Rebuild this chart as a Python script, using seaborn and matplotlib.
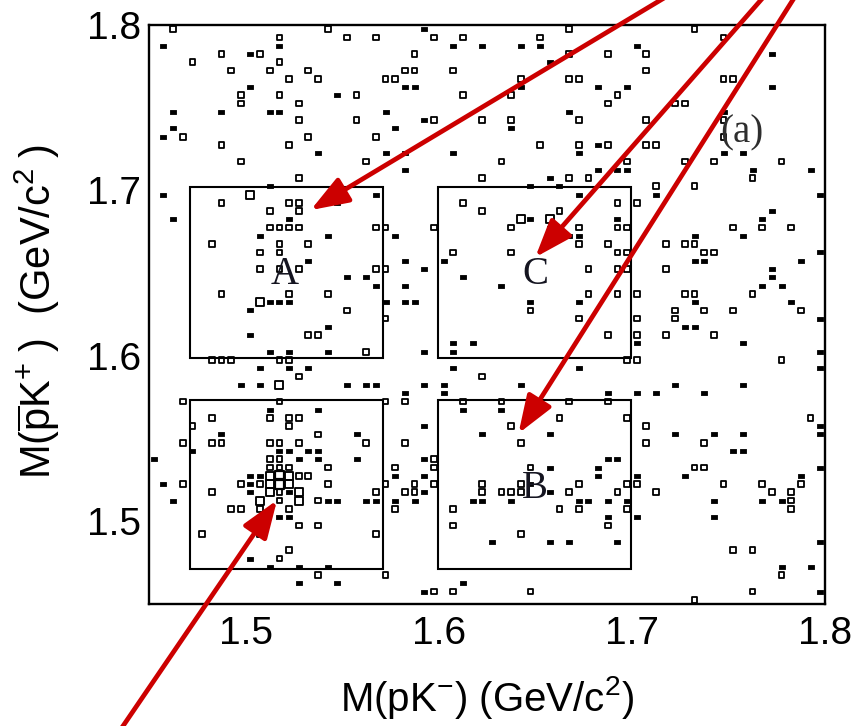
import matplotlib
matplotlib.use("Agg")
import matplotlib.pyplot as plt
from matplotlib.markers import MarkerStyle
from matplotlib.patches import Rectangle
from matplotlib.ticker import MultipleLocator
import pandas as pd
import seaborn as sns

# Occupied cells of the M(pK-) vs M(pbar K+) histogram (5 MeV/c^2 cells).
# One entry per row of cells: the M(pbar K+) centre of the row, the M(pK-)
# centres of the filled cells in that row and the number of entries in each.
row_m_pbark = [
    1.7975, 1.7925, 1.7875, 1.7825, 1.7775, 1.7725, 1.7675, 1.7625, 1.7575, 1.7525,
    1.7475, 1.7425, 1.7375, 1.7325, 1.7275, 1.7225, 1.7175, 1.7125, 1.7075, 1.7025,
    1.6975, 1.6925, 1.6875, 1.6825, 1.6775, 1.6725, 1.6675, 1.6625, 1.6575, 1.6525,
    1.6475, 1.6425, 1.6375, 1.6325, 1.6275, 1.6225, 1.6175, 1.6125, 1.6075, 1.6025,
    1.5975, 1.5925, 1.5875, 1.5825, 1.5775, 1.5725, 1.5675, 1.5625, 1.5575, 1.5525,
    1.5475, 1.5425, 1.5375, 1.5325, 1.5275, 1.5225, 1.5175, 1.5125, 1.5075, 1.5025,
    1.4975, 1.4925, 1.4875, 1.4825, 1.4775, 1.4725, 1.4675, 1.4625, 1.4575, 1.4525,
]

row_m_pk = [
    [1.4625, 1.5425, 1.5925, 1.6675, 1.7325],
    [1.5175, 1.5525, 1.5675, 1.5975, 1.6125, 1.6525, 1.7475],
    [1.4575, 1.5175, 1.6075, 1.6225, 1.6425, 1.6525, 1.7025],
    [1.4875, 1.5025, 1.5075, 1.5875, 1.6675, 1.6875, 1.7075, 1.7725],
    [1.4725, 1.5175, 1.6575],
    [1.4925, 1.5125, 1.5325, 1.5825, 1.5875, 1.6075, 1.7075],
    [1.5225, 1.5375, 1.5725, 1.5775, 1.6425, 1.6675, 1.6725, 1.7475, 1.7525],
    [1.5025, 1.5825, 1.5875, 1.6425, 1.6825, 1.6975, 1.7725],
    [1.4975, 1.5175, 1.5475, 1.5575, 1.6125, 1.6375, 1.6925],
    [1.4975, 1.5275, 1.6875, 1.7225, 1.7275],
    [1.4625, 1.4875, 1.5125, 1.5175, 1.5725, 1.6675, 1.7475],
    [1.5275, 1.5575, 1.5925, 1.5975, 1.6225, 1.6375, 1.6725, 1.7075, 1.7475],
    [1.4625, 1.5775, 1.6375],
    [1.4575, 1.4675, 1.5325, 1.5675, 1.7475],
    [1.4875, 1.5225, 1.6525, 1.6725, 1.6825, 1.6875, 1.7075, 1.7125],
    [1.5375, 1.5725, 1.5825, 1.6075, 1.6725, 1.7475, 1.7575],
    [1.4975, 1.5625, 1.6325, 1.6975, 1.7275, 1.7425, 1.7775],
    [1.5825, 1.6825, 1.6925, 1.6975, 1.7625, 1.7925],
    [1.5275, 1.6225, 1.6575, 1.6675, 1.6775, 1.7625],
    [1.5125, 1.6475, 1.6625, 1.7125, 1.7325],
    [1.4575, 1.5025, 1.5675, 1.6725, 1.7125, 1.7975],
    [1.4875, 1.5225, 1.5275, 1.5475, 1.6125, 1.6925, 1.7025],
    [1.5125, 1.5275, 1.6225, 1.6625, 1.7725],
    [1.4625, 1.5225, 1.6425, 1.6475, 1.6575, 1.6925, 1.7675],
    [1.5125, 1.5175, 1.5225, 1.5275, 1.5675, 1.5725, 1.5975, 1.6375, 1.6575, 1.6725,
     1.6925, 1.6975, 1.7525, 1.7675, 1.7825],
    [1.5075, 1.5425, 1.5775, 1.6675, 1.6725, 1.7325, 1.7575],
    [1.4825, 1.5175, 1.5325, 1.6725, 1.6875, 1.7175, 1.7275, 1.7325],
    [1.5075, 1.5175, 1.6075, 1.6375, 1.6925, 1.6975, 1.7375, 1.7425, 1.7975],
    [1.5325, 1.5825, 1.6025, 1.7325, 1.7375, 1.7875],
    [1.5075, 1.5175, 1.5275, 1.5675, 1.5725, 1.5925, 1.6775, 1.6925, 1.6975, 1.7175,
     1.7725],
    [1.5525, 1.5625, 1.6125, 1.7725],
    [1.5675, 1.5825, 1.6325, 1.7675, 1.7775],
    [1.4875, 1.5225, 1.5425, 1.6775, 1.6925, 1.7025, 1.7275, 1.7325, 1.7625],
    [1.5075, 1.5125, 1.5175, 1.5225, 1.5725, 1.5825, 1.5875, 1.6475, 1.6725, 1.7325,
     1.7825],
    [1.5025, 1.5525, 1.6475, 1.7225, 1.7375, 1.7525, 1.7875],
    [1.5725, 1.6725, 1.7025, 1.7225, 1.7975],
    [1.5425, 1.7275, 1.7325],
    [1.5025, 1.5325, 1.5375, 1.6875, 1.7025, 1.7175, 1.7425],
    [1.6075, 1.6175, 1.7025, 1.7575],
    [1.5125, 1.5225, 1.5425, 1.5625, 1.5925, 1.6075, 1.7975],
    [1.4825, 1.4875, 1.4925, 1.5175, 1.5225, 1.6975, 1.7025, 1.7775],
    [1.5075, 1.5225, 1.5325, 1.6075, 1.6725, 1.7975],
    [1.5275, 1.6225],
    [1.4975, 1.5075, 1.5175, 1.5525, 1.5625, 1.5675, 1.5925, 1.6025, 1.6425, 1.7225,
     1.7575],
    [1.5825, 1.6025, 1.6875, 1.7025, 1.7125, 1.7375],
    [1.4675, 1.5175, 1.5725, 1.5825, 1.6125, 1.6325, 1.6675, 1.6875],
    [1.5125, 1.5375, 1.6125, 1.6325],
    [1.4825, 1.5125, 1.5225, 1.5275, 1.6625, 1.6975, 1.7925],
    [1.4725, 1.5225, 1.5925, 1.6375, 1.7075, 1.7975],
    [1.4875, 1.5375, 1.5575, 1.6225, 1.6575, 1.7225, 1.7425, 1.7575, 1.7975],
    [1.4675, 1.4825, 1.4875, 1.5125, 1.5175, 1.5275, 1.5625, 1.5825, 1.6425, 1.7075,
     1.7375],
    [1.4725, 1.5175, 1.5225, 1.5325, 1.5375, 1.7525, 1.7575],
    [1.4525, 1.5125, 1.5175, 1.5275, 1.5375, 1.5575, 1.5925, 1.5975, 1.6875, 1.6925],
    [1.5125, 1.5175, 1.5225, 1.5425, 1.5775, 1.5975, 1.6475, 1.6575, 1.6825, 1.7325,
     1.7375, 1.7975],
    [1.5025, 1.5075, 1.5125, 1.5175, 1.5225, 1.5275, 1.5325, 1.5775, 1.5925, 1.6825,
     1.7025, 1.7275, 1.7875],
    [1.4575, 1.4675, 1.4975, 1.5025, 1.5075, 1.5125, 1.5175, 1.5225, 1.5425, 1.5725,
     1.5875, 1.5975, 1.6225, 1.6425, 1.6475, 1.6725, 1.6975, 1.7025, 1.7475, 1.7675,
     1.7875],
    [1.4825, 1.5025, 1.5125, 1.5175, 1.5225, 1.5275, 1.5675, 1.5825, 1.5875, 1.5925,
     1.6225, 1.6325, 1.6375, 1.6425, 1.6575, 1.6675, 1.6925, 1.7125, 1.7725, 1.7825],
    [1.4625, 1.5075, 1.5175, 1.5275, 1.5375, 1.5425, 1.5475, 1.5625, 1.5675, 1.5775,
     1.5875, 1.6175, 1.6225, 1.6375, 1.6725, 1.6775, 1.6875, 1.6975, 1.7425, 1.7675,
     1.7775, 1.7825],
    [1.4925, 1.4975, 1.5075, 1.5225, 1.5775, 1.6075, 1.6625, 1.6725, 1.6975, 1.7825],
    [1.5175, 1.5225, 1.6875, 1.7025, 1.7425],
    [1.5275, 1.5375, 1.6075, 1.6875],
    [1.4775, 1.5075, 1.5675, 1.6425],
    [1.6275, 1.6575, 1.6675, 1.6925, 1.7975],
    [1.5225, 1.7525, 1.7625],
    [1.5025, 1.5175],
    [1.5125, 1.5275, 1.5425, 1.7775, 1.7925],
    [1.5375, 1.5725, 1.7775],
    [1.5275, 1.5475, 1.6125],
    [1.5925, 1.5975, 1.6075, 1.6475, 1.7625, 1.7975],
    [1.7325],
]

row_entries = [
    [2, 2, 1, 2, 2],
    [2, 2, 2, 2, 2, 2, 2],
    [1, 1, 1, 1, 1, 1, 1],
    [2, 1, 2, 2, 2, 2, 2, 1],
    [2, 2, 1],
    [2, 2, 2, 2, 2, 2, 2],
    [2, 2, 2, 2, 2, 2, 2, 2, 2],
    [1, 1, 1, 1, 1, 1, 1],
    [2, 2, 1, 2, 2, 2, 2],
    [2, 2, 2, 2, 2],
    [1, 1, 1, 1, 1, 1, 1],
    [2, 2, 1, 2, 2, 2, 2, 2, 2],
    [1, 1, 1],
    [1, 2, 2, 2, 2],
    [2, 2, 2, 2, 1, 2, 2, 2],
    [1, 1, 1, 1, 1, 1, 1],
    [2, 2, 2, 2, 2, 2, 2],
    [1, 1, 1, 1, 1, 1],
    [2, 2, 1, 2, 2, 2],
    [1, 1, 1, 2, 2],
    [1, 3, 1, 1, 1, 1],
    [2, 2, 2, 1, 2, 2, 2],
    [2, 2, 2, 2, 1],
    [1, 1, 3, 1, 3, 1, 1],
    [2, 2, 2, 2, 2, 2, 2, 2, 1, 2, 2, 2, 2, 2, 2],
    [1, 1, 1, 1, 1, 1, 1],
    [2, 2, 2, 2, 2, 2, 2, 2],
    [2, 2, 2, 2, 2, 2, 2, 2, 1],
    [1, 1, 1, 1, 1, 1],
    [2, 2, 2, 2, 2, 1, 2, 2, 2, 2, 1],
    [1, 1, 1, 1],
    [1, 1, 1, 1, 1],
    [2, 2, 2, 2, 2, 2, 2, 2, 2],
    [3, 1, 1, 1, 1, 1, 1, 1, 1, 1, 1],
    [1, 2, 2, 2, 2, 2, 2],
    [2, 2, 2, 2, 1],
    [1, 1, 1],
    [1, 2, 2, 2, 2, 2, 2],
    [1, 1, 1, 1],
    [1, 1, 1, 2, 1, 1, 1],
    [2, 2, 2, 2, 2, 2, 2, 2],
    [1, 1, 1, 1, 1, 1],
    [2, 2],
    [1, 1, 3, 1, 1, 1, 1, 1, 1, 1, 1],
    [1, 1, 1, 1, 1, 1],
    [2, 2, 2, 2, 2, 2, 2, 2],
    [1, 1, 1, 1],
    [2, 2, 2, 2, 2, 2, 2],
    [2, 2, 1, 2, 2, 1],
    [1, 2, 1, 1, 1, 1, 1, 1, 1],
    [2, 2, 2, 2, 2, 2, 2, 2, 2, 2, 2],
    [1, 1, 1, 1, 1, 1, 1],
    [1, 2, 2, 1, 1, 1, 1, 2, 1, 1],
    [2, 2, 2, 2, 2, 2, 2, 1, 1, 2, 2, 1],
    [1, 1, 3, 4, 3, 2, 2, 1, 1, 1, 1, 1, 1],
    [1, 2, 2, 1, 2, 3, 4, 3, 2, 2, 2, 2, 2, 2, 1, 2, 2, 2, 2, 2, 2],
    [2, 1, 3, 2, 1, 3, 2, 2, 2, 1, 2, 2, 2, 2, 1, 2, 2, 2, 2, 2],
    [1, 3, 2, 3, 2, 1, 1, 1, 1, 1, 1, 1, 1, 1, 1, 1, 1, 1, 1, 1, 1, 2],
    [2, 2, 2, 2, 2, 2, 2, 2, 2, 2],
    [1, 1, 1, 1, 1],
    [2, 2, 2, 2],
    [2, 2, 2, 2],
    [1, 1, 1, 1, 1],
    [2, 2, 2],
    [1, 2],
    [1, 1, 1, 1, 1],
    [2, 2, 2],
    [1, 1, 1],
    [1, 2, 2, 2, 2, 1],
    [2],
]

# Signal / sideband windows (M(pK-) range, M(pbar K+) range, label)
windows_m_pk = [(1.471, 1.571), (1.5995, 1.6995), (1.5995, 1.6995), (1.471, 1.571)]
windows_m_pbark = [(1.5985, 1.702), (1.5985, 1.702), (1.471, 1.5735), (1.471, 1.5735)]
window_labels = ["A", "C", "B", ""]
label_pos = [(1.52, 1.6435), (1.65, 1.6435), (1.65, 1.5138)]

# Arrows pointing at the windows (head, tail) in mass coordinates
arrow_heads = [(1.5337, 1.6881), (1.65, 1.6596), (1.6413, 1.5531), (1.5163, 1.5128)]
arrow_tails = [(1.7322, 1.8272), (1.7759, 1.8272), (1.7899, 1.8272), (1.4298, 1.3647)]

rows = []
for y, xs, ns in zip(row_m_pbark, row_m_pk, row_entries):
    assert len(xs) == len(ns)
    for x, n in zip(xs, ns):
        rows.append({"m_pk": x, "m_pbark": y, "entries": n})
cells = pd.DataFrame(rows)

sns.set_theme(style="white")
plt.rcParams["font.family"] = ["Liberation Sans", "DejaVu Sans"]
plt.rcParams["mathtext.fontset"] = "custom"
plt.rcParams["mathtext.rm"] = "Liberation Sans"
plt.rcParams["mathtext.it"] = "Liberation Sans:italic"
plt.rcParams["mathtext.bf"] = "Liberation Sans:bold"
for key in ("text.color", "axes.labelcolor", "xtick.color", "ytick.color",
            "xtick.labelcolor", "ytick.labelcolor", "axes.edgecolor"):
    plt.rcParams[key] = "black"

fig = plt.figure(figsize=(8.52, 7.26), dpi=100)
ax = fig.add_axes([149 / 852, 122 / 726, 676 / 852, 579 / 726])

# single entries: small filled bar; more entries: open boxes growing with content
dash = MarkerStyle([(-1, -0.5), (1, -0.5), (1, 0.5), (-1, 0.5), (-1, -0.5)])
sns.scatterplot(data=cells[cells.entries == 1], x="m_pk", y="m_pbark",
                marker=dash, s=24, color="black", edgecolor="black",
                linewidth=0.6, legend=False, ax=ax, zorder=3)
for n, side, lw in [(2, 4.1, 1.3), (3, 5.8, 1.35), (4, 6.6, 1.6)]:
    sns.scatterplot(data=cells[cells.entries == n], x="m_pk", y="m_pbark",
                    marker="s", s=side ** 2, color="black", facecolor="none",
                    edgecolor="black", linewidth=lw, legend=False, ax=ax, zorder=3)

for (x0, x1), (y0, y1) in zip(windows_m_pk, windows_m_pbark):
    ax.add_patch(Rectangle((x0, y0), x1 - x0, y1 - y0, fill=False,
                           edgecolor="black", linewidth=1.5, zorder=4))

for lab, (x, y) in zip(window_labels, label_pos):
    ax.text(x, y, lab, ha="center", va="baseline", fontsize=28,
            family="Liberation Serif", color="#141420", zorder=5)
ax.text(1.757, 1.7288, "(a)", ha="center", va="baseline", fontsize=28,
        family="Liberation Serif", color="#2e2e2e", zorder=5)

ax.set_xlim(1.45, 1.8)
ax.set_ylim(1.45, 1.8)
for axis in (ax.xaxis, ax.yaxis):
    axis.set_major_locator(MultipleLocator(0.1))
    axis.set_minor_locator(MultipleLocator(0.02))
ax.tick_params(which="both", direction="in", top=False, right=False,
               color="black", labelcolor="black", width=1.2)
ax.tick_params(axis="x", which="major", length=13, labelsize=28, pad=8.5)
ax.tick_params(axis="x", which="minor", length=7.2)
ax.tick_params(axis="y", which="major", length=15.8, labelsize=28, pad=6)
ax.tick_params(axis="y", which="minor", length=9.4)
for sp in ax.spines.values():
    sp.set_linewidth(1.7)
    sp.set_color("black")

ax.set_xlabel(r"M(pK$^{-}$) (GeV/c$^{2}$)", fontsize=29, color="black")
ax.set_ylabel(r"M($\overline{\mathrm{p}}$K$^{+}$$\;$)  (GeV/c$^{2}$$\;$)",
              fontsize=30, color="black")
ax.xaxis.set_label_coords(0.5, -0.161)
ax.xaxis.label.set_va("center")
ax.yaxis.set_label_coords(-0.165, 0.505)
ax.yaxis.label.set_va("center")

for head, tail in zip(arrow_heads, arrow_tails):
    ax.annotate("", xy=head, xycoords="data", xytext=tail, textcoords="data",
                arrowprops=dict(arrowstyle="-|>,head_length=1.15,head_width=0.42",
                                mutation_scale=20, color="#cc0000", lw=3.4,
                                shrinkA=0, shrinkB=0),
                annotation_clip=False, zorder=10)

fig.savefig("out.png", dpi=100, facecolor="white")
